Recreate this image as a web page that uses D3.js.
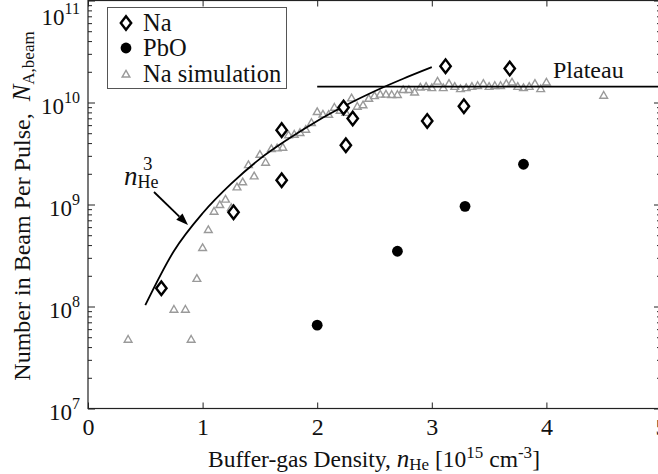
<!DOCTYPE html>
<html>
<head>
<meta charset="utf-8">
<script src="https://cdn.jsdelivr.net/npm/d3@7"></script>
<style>
  html, body { margin: 0; padding: 0; background: #fff; }
  svg { display: block; }
  text { font-family: "Liberation Serif", "Times New Roman", serif; fill: #111; }
</style>
</head>
<body>
<svg id="chart" width="658" height="474"></svg>
<script>
// ---------------- data ----------------
const naX = [0.64, 1.27, 1.69, 1.69, 2.23, 2.31, 2.25, 2.96, 3.12, 3.28, 3.68];
const naY = [1.51e8, 8.4e8, 1.73e9, 5.36e9, 8.93e9, 6.97e9, 3.81e9, 6.6e9, 2.27e10, 9.2e9, 2.15e10];

const pboX = [2.0, 2.7, 3.29, 3.8];
const pboY = [6.56e7, 3.48e8, 9.6e8, 2.48e9];

const simX = [0.35, 0.75, 0.85, 0.9, 0.95, 1.0, 1.05, 1.1, 1.15, 1.2, 1.25, 1.3, 1.35, 1.4, 1.45,
  1.5, 1.55, 1.6, 1.65, 1.7, 1.75, 1.8, 1.85, 1.9, 1.95, 2.0, 2.05, 2.1, 2.15, 2.2, 2.25,
  2.3, 2.35, 2.4, 2.45, 2.5, 2.55, 2.6, 2.65, 2.7, 2.75, 2.8, 2.85, 2.9, 2.95, 3.0, 3.05,
  3.1, 3.15, 3.2, 3.25, 3.3, 3.35, 3.4, 3.45, 3.5, 3.55, 3.6, 3.65, 3.7, 3.75, 3.8, 3.85,
  3.9, 3.95, 4.0, 4.5];
const simY = [4.78e7, 9.41e7, 9.41e7, 4.78e7, 1.89e8, 3.79e8, 5.69e8, 8.6e8, 1.0e9, 1.13e9, 9.35e8,
  1.49e9, 1.67e9, 2.46e9, 1.91e9, 3.11e9, 2.6e9, 3.54e9, 3.59e9, 3.65e9, 4.83e9, 4.89e9,
  5.09e9, 5.47e9, 6.38e9, 8.16e9, 7.71e9, 7.67e9, 9.0e9, 8.4e9, 8.0e9, 1.11e10, 9.2e9,
  9.5e9, 1.10e10, 1.17e10, 1.21e10, 1.21e10, 1.20e10, 1.20e10, 1.34e10, 1.34e10, 1.27e10,
  1.42e10, 1.44e10, 1.40e10, 1.62e10, 1.40e10, 1.54e10, 1.44e10, 1.37e10, 1.40e10, 1.44e10,
  1.47e10, 1.54e10, 1.44e10, 1.47e10, 1.47e10, 1.54e10, 1.59e10, 1.44e10, 1.40e10, 1.44e10,
  1.54e10, 1.37e10, 1.59e10, 1.18e10];

// n_He^3 guide curve
const fitX = [0.5, 0.75, 1.0, 1.25, 1.5, 1.75, 2.0, 2.25, 2.5, 2.75, 3.0];
const fitY = [1.03e8, 3.5e8, 8.2e8, 1.6e9, 2.8e9, 4.4e9, 6.6e9, 9.4e9, 1.29e10, 1.71e10, 2.22e10];

// plateau line
const plateauX = [2.0, 5.0];
const plateauY = [1.43e10, 1.43e10];

const xTicks = [0, 1, 2, 3, 4, 5];
const yTickExp = [7, 8, 9, 10, 11];
const legendLabels = ["Na", "PbO", "Na simulation"];

// ---------------- layout ----------------
const svg = d3.select("#chart");
const mLeft = 88, mRight = 661, mTop = 0.5, mBottom = 408.5;
const x = d3.scaleLinear().domain([0, 5]).range([mLeft, mRight]);
const y = d3.scaleLog().domain([1e7, 1e11]).range([mBottom, mTop]);

const majorY = yTickExp.map(e => Math.pow(10, e));
const minorY = [];
for (let e = 7; e < 11; e++) for (let m = 2; m <= 9; m++) minorY.push(m * Math.pow(10, e));

const axisColor = "#222";
function styleAxis(g) {
  g.select(".domain").remove();
  g.selectAll(".tick line").attr("stroke", axisColor).attr("stroke-width", 1);
}

// bottom axis
svg.append("g").attr("transform", `translate(0,${mBottom})`)
  .call(d3.axisBottom(x).tickValues(xTicks).tickSize(-6).tickPadding(9).tickFormat(d3.format("d")))
  .call(styleAxis)
  .call(g => g.selectAll(".tick text").attr("font-size", 24).attr("font-family", "Liberation Serif").attr("fill", "#111"));
// top axis
svg.append("g").attr("transform", `translate(0,${mTop})`)
  .call(d3.axisTop(x).tickValues(xTicks).tickSize(-6).tickFormat(""))
  .call(styleAxis);
// left axis major + minor
svg.append("g").attr("transform", `translate(${mLeft},0)`)
  .call(d3.axisLeft(y).tickValues(majorY).tickSize(-7).tickFormat(""))
  .call(styleAxis);
svg.append("g").attr("transform", `translate(${mLeft},0)`)
  .call(d3.axisLeft(y).tickValues(minorY).tickSize(-4).tickFormat(""))
  .call(styleAxis);
// right axis major + minor
svg.append("g").attr("transform", `translate(${mRight},0)`)
  .call(d3.axisRight(y).tickValues(majorY).tickSize(-7).tickFormat(""))
  .call(styleAxis);
svg.append("g").attr("transform", `translate(${mRight},0)`)
  .call(d3.axisRight(y).tickValues(minorY).tickSize(-4).tickFormat(""))
  .call(styleAxis);

// frame
svg.append("rect").attr("x", mLeft).attr("y", mTop).attr("width", mRight - mLeft).attr("height", mBottom - mTop)
  .attr("fill", "none").attr("stroke", axisColor).attr("stroke-width", 1.2);

// y tick labels 10^n
yTickExp.forEach(e => {
  const ty = Math.max(y(Math.pow(10, e)) + 3, 17);
  const t = svg.append("text").attr("x", 80).attr("y", ty).attr("text-anchor", "end")
    .attr("dominant-baseline", "central").attr("font-size", 23);
  t.append("tspan").text("10");
  t.append("tspan").attr("font-size", 16).attr("dy", -9).text(String(e));
});

// ---------------- marks ----------------
const plot = svg.append("g");

// simulation triangles
const triSym = d3.symbol().type(d3.symbolTriangle).size(26);
plot.append("g").selectAll("path").data(simX.map((d, i) => [d, simY[i]])).join("path")
  .attr("transform", d => `translate(${x(d[0])},${y(d[1]) + 0.8})`)
  .attr("d", triSym)
  .attr("fill", "none").attr("stroke", "#9a9a9a").attr("stroke-width", 1.4);

// fit curve
const line = d3.line().x(d => x(d[0])).y(d => y(d[1])).curve(d3.curveMonotoneX);
plot.append("path").datum(fitX.map((d, i) => [d, fitY[i]]))
  .attr("d", line).attr("fill", "none").attr("stroke", "#000").attr("stroke-width", 1.8);

// plateau line
plot.append("path").datum(plateauX.map((d, i) => [d, plateauY[i]]))
  .attr("d", d3.line().x(d => x(d[0])).y(d => y(d[1])))
  .attr("fill", "none").attr("stroke", "#000").attr("stroke-width", 1.8);

// diamonds
const diamondPath = "M0,-6.8L5.2,0L0,6.8L-5.2,0Z";
plot.append("g").selectAll("path").data(naX.map((d, i) => [d, naY[i]])).join("path")
  .attr("transform", d => `translate(${x(d[0])},${y(d[1])})`)
  .attr("d", diamondPath)
  .attr("fill", "#fff").attr("stroke", "#000").attr("stroke-width", 2.4);

// PbO circles
plot.append("g").selectAll("circle").data(pboX.map((d, i) => [d, pboY[i]])).join("circle")
  .attr("cx", d => x(d[0])).attr("cy", d => y(d[1])).attr("r", 5.4).attr("fill", "#000");

// ---------------- annotations ----------------
svg.append("text").attr("x", 553).attr("y", 78).attr("font-size", 24).text("Plateau");

// n_He^3 label
const nl = svg.append("text").attr("x", 124).attr("y", 185).attr("font-size", 27);
nl.append("tspan").attr("font-style", "italic").text("n");
nl.append("tspan").attr("font-size", 18).attr("dy", 3).text("He");
svg.append("text").attr("x", 143).attr("y", 170).attr("font-size", 19).text("3");

// arrow
const ax0 = 154, ay0 = 192, ax1 = 188, ay1 = 225;
const ang = Math.atan2(ay1 - ay0, ax1 - ax0);
const hl = 12, hw = 4.5;
const bx = ax1 - hl * Math.cos(ang), by = ay1 - hl * Math.sin(ang);
svg.append("line").attr("x1", ax0).attr("y1", ay0).attr("x2", bx).attr("y2", by)
  .attr("stroke", "#000").attr("stroke-width", 1.8);
svg.append("path")
  .attr("d", `M${ax1},${ay1}L${bx - hw * Math.sin(ang)},${by + hw * Math.cos(ang)}L${bx + hw * Math.sin(ang)},${by - hw * Math.cos(ang)}Z`)
  .attr("fill", "#000");

// ---------------- legend ----------------
const lg = svg.append("g");
lg.append("rect").attr("x", 107.5).attr("y", 7.5).attr("width", 179).attr("height", 81)
  .attr("fill", "#fff").attr("stroke", "#555").attr("stroke-width", 1);
const rowsY = [23, 48, 74];
lg.append("path").attr("transform", `translate(126,${rowsY[0]})`).attr("d", diamondPath)
  .attr("fill", "#fff").attr("stroke", "#000").attr("stroke-width", 2.4);
lg.append("circle").attr("cx", 126).attr("cy", rowsY[1]).attr("r", 5.4).attr("fill", "#000");
lg.append("path").attr("transform", `translate(126,${rowsY[2] + 0.8})`).attr("d", triSym)
  .attr("fill", "none").attr("stroke", "#9a9a9a").attr("stroke-width", 1.4);
legendLabels.forEach((t, i) => {
  lg.append("text").attr("x", 143).attr("y", rowsY[i] + 8).attr("font-size", 24.5).text(t);
});

// ---------------- axis titles ----------------
const xt = svg.append("text").attr("x", 0).attr("y", 467).attr("font-size", 23.5);
xt.append("tspan").text("Buffer-gas Density, ");
xt.append("tspan").attr("font-style", "italic").attr("font-size", 25).text("n");
xt.append("tspan").attr("font-size", 17).attr("dy", 3).text("He");
xt.append("tspan").attr("dy", -3).text("\u00a0[10");
xt.append("tspan").attr("font-size", 17).attr("dy", -9).text("15");
xt.append("tspan").attr("dy", 9).text("\u00a0cm");
xt.append("tspan").attr("font-size", 17).attr("dy", -9).text("-3");
xt.append("tspan").attr("dy", 9).text("]");
{
  const bb = xt.node().getBBox();
  xt.attr("x", 374 - bb.width / 2);
}

const yt = svg.append("text").attr("x", 0).attr("y", 0).attr("font-size", 24);
yt.append("tspan").text("Number in Beam Per Pulse,\u00a0\u00a0");
yt.append("tspan").attr("font-style", "italic").attr("font-size", 25).text("N");
yt.append("tspan").attr("font-size", 17).attr("dy", 4).text("A,beam");
{
  const bb = yt.node().getBBox();
  yt.attr("transform", `translate(30,${206 + bb.width / 2}) rotate(-90)`);
}
</script>
</body>
</html>
